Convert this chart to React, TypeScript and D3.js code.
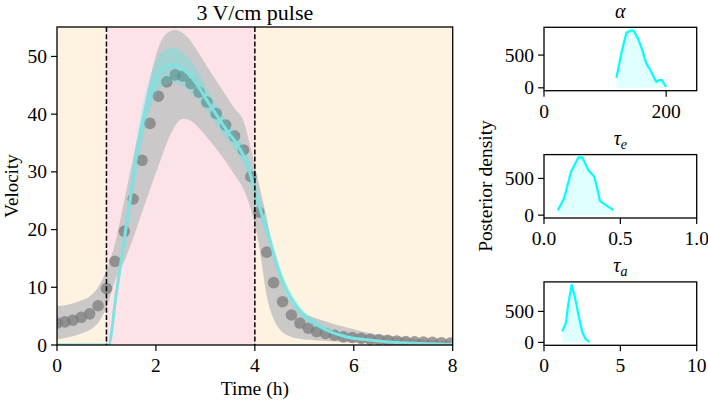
import React from 'react';
import * as d3 from 'd3';

// ---------- data ----------
const pulseStart = 1;
const pulseEnd = 4;

const obsTime = [0.0, 0.16, 0.32, 0.49, 0.66, 0.83, 1.0, 1.17, 1.36, 1.54, 1.72, 1.88, 2.05, 2.22, 2.39, 2.55, 2.71, 2.87, 3.03, 3.22, 3.41, 3.59, 3.77, 3.92, 4.08, 4.24, 4.38, 4.56, 4.74, 4.91, 5.08, 5.25, 5.43, 5.61, 5.79, 5.97, 6.15, 6.33, 6.51, 6.69, 6.87, 7.05, 7.23, 7.41, 7.59, 7.77, 7.95];
const obsVelocity = [3.8, 4.0, 4.3, 4.8, 5.4, 6.8, 9.8, 14.5, 19.7, 25.3, 32.0, 38.4, 43.1, 45.6, 46.8, 46.6, 45.3, 43.8, 42.1, 40.1, 38.1, 36.2, 33.8, 29.2, 23.0, 16.1, 10.8, 7.5, 5.2, 3.8, 2.9, 2.3, 2.0, 1.7, 1.4, 1.3, 1.15, 1.0, 0.9, 0.8, 0.7, 0.6, 0.55, 0.5, 0.45, 0.4, 0.35];
const obsUpper = [6.8, 6.9, 7.2, 7.7, 8.4, 10.0, 13.0, 17.5, 25.0, 32.5, 39.5, 46.0, 51.5, 54.0, 54.6, 54.0, 52.6, 50.5, 48.3, 45.8, 43.3, 41.0, 38.8, 34.0, 28.0, 22.0, 16.0, 10.5, 7.4, 5.9, 5.1, 4.6, 4.1, 3.6, 3.2, 2.8, 2.4, 2.1, 1.8, 1.6, 1.4, 1.2, 1.05, 0.95, 0.85, 0.75, 0.7];
const obsLower = [1.0, 1.2, 1.5, 2.0, 2.6, 3.8, 6.5, 11.0, 14.5, 18.5, 23.0, 27.0, 31.0, 35.0, 38.0, 39.2, 38.8, 37.6, 36.0, 34.0, 31.8, 29.5, 27.0, 23.5, 17.5, 8.5, 4.5, 2.2, 1.4, 1.1, 0.9, 0.8, 0.7, 0.6, 0.5, 0.45, 0.4, 0.35, 0.3, 0.25, 0.2, 0.2, 0.15, 0.15, 0.1, 0.1, 0.1];

const modelTime = [0, 1.0, 1.04, 1.2, 1.36, 1.5, 1.6, 1.71, 1.88, 2.05, 2.2, 2.35, 2.5, 2.65, 2.82, 3.03, 3.23, 3.43, 3.63, 3.84, 4.04, 4.2, 4.31, 4.44, 4.61, 4.85, 5.12, 5.45, 5.86, 6.26, 6.7, 7.2, 7.6, 8];
const modelVelocity = [0, 0, 0, 9, 18.3, 26.5, 32.5, 37.8, 43.5, 47, 48.2, 48.5, 48, 47, 45.3, 42.4, 39.8, 37.2, 34.9, 31.5, 25.5, 21, 18, 14.1, 10.1, 6.6, 4.3, 2.6, 1.4, 0.9, 0.5, 0.3, 0.2, 0.1];
const modelUpper = [0, 0, 0, 10.2, 20.3, 29, 35.3, 40.8, 46.5, 50, 51.2, 51.5, 51, 49.8, 47.8, 44.4, 41.6, 38.8, 36.4, 33, 27, 22.5, 19.4, 15.4, 11.3, 7.5, 5, 3.1, 1.8, 1.2, 0.7, 0.45, 0.3, 0.2];
const modelLower = [0, 0, 0, 7.8, 16.3, 24, 29.7, 34.8, 40.5, 44, 45.2, 45.5, 45, 44.2, 42.8, 40.4, 38, 35.6, 33.4, 30, 24, 19.5, 16.6, 12.8, 8.9, 5.7, 3.6, 2.1, 1.0, 0.6, 0.3, 0.15, 0.1, 0];

const mainXTicks = [0, 2, 4, 6, 8];
const mainYTicks = [0, 10, 20, 30, 40, 50];

const alphaX = [118.5, 126.6, 134.8, 141.3, 146.7, 153.7, 160.9, 167.4, 175.5, 183.7, 189, 192.9, 200];
const alphaDensity = [153, 526, 841, 872, 872, 755, 576, 373, 245, 92, 118, 118, 15];
const alphaXTicks = [0, 200];

const tauEX = [0.09, 0.131, 0.177, 0.225, 0.251, 0.29, 0.33, 0.367, 0.454];
const tauEDensity = [68, 227, 590, 786, 786, 613, 522, 191, 68];
const tauEXTicks = [0, 0.5, 1.0];

const tauAX = [1.2, 1.44, 1.59, 1.81, 2.03, 2.29, 2.51, 2.73, 2.97];
const tauADensity = [177, 323, 619, 930, 726, 403, 161, 55, 10];
const tauAXTicks = [0, 5, 10];

const densityYTicks = [0, 500];

// ---------- layout ----------
const FONT = "'Liberation Serif', 'DejaVu Serif', serif";
const TICK_FS = 19.5;
const TITLE_FS = 22;
const GREEK_FS = 20;

const M = { left: 57, right: 452.7, top: 27, bottom: 345 };
const P = { left: 544, right: 696.7 };
const panelTops = [27.3, 154.6, 281.9];
const PH = 63.4;

function SmallPanel({ top, xDomain, yDomain, xs, ys, xTicks, fmt, title, sub, id }) {
  const x = d3.scaleLinear().domain(xDomain).range([P.left, P.right]);
  const y = d3.scaleLinear().domain(yDomain).range([top + PH, top]);
  const pts = xs.map((v, i) => [v, ys[i]]);
  const line = d3.line().x(d => x(d[0])).y(d => y(d[1]))(pts);
  const area = d3.area().x(d => x(d[0])).y0(y(0)).y1(d => y(d[1]))(pts);
  const cx = (P.left + P.right) / 2;
  return (
    <g>
      <defs>
        <clipPath id={id}><rect x={P.left} y={top} width={P.right - P.left} height={PH} /></clipPath>
      </defs>
      <g clipPath={`url(#${id})`}>
        <path d={area} fill="#00ffff" fillOpacity={0.12} />
        <path d={line} fill="none" stroke="#00ffff" strokeWidth={2.2} strokeLinejoin="round" />
      </g>
      <rect x={P.left} y={top} width={P.right - P.left} height={PH} fill="none" stroke="#000" strokeWidth={1.3} />
      {densityYTicks.map(t => (
        <g key={'y' + t}>
          <line x1={P.left - 6} x2={P.left} y1={y(t)} y2={y(t)} stroke="#000" strokeWidth={1.2} />
          <text x={P.left - 10} y={y(t)} dy="0.34em" textAnchor="end" fontSize={TICK_FS} fontFamily={FONT}>{t}</text>
        </g>
      ))}
      {xTicks.map(t => (
        <g key={'x' + t}>
          <line x1={x(t)} x2={x(t)} y1={top + PH} y2={top + PH + 6} stroke="#000" strokeWidth={1.2} />
          <text x={x(t)} y={top + PH + 27} textAnchor="middle" fontSize={TICK_FS} fontFamily={FONT}>{fmt(t)}</text>
        </g>
      ))}
      <text x={cx} y={top - 9.5} textAnchor="middle" fontSize={GREEK_FS} fontFamily={FONT} fontStyle="italic">
        {title}
        {sub ? <tspan fontSize={GREEK_FS * 0.7} dy={4}>{sub}</tspan> : null}
      </text>
    </g>
  );
}

export default function App() {
  const x = d3.scaleLinear().domain([0, 8]).range([M.left, M.right]);
  const y = d3.scaleLinear().domain([0, 55.1]).range([M.bottom, M.top]);

  const obsIdx = obsTime.map((_, i) => i);
  const obsBand = d3.area().curve(d3.curveMonotoneX)
    .x(i => x(obsTime[i])).y0(i => y(obsLower[i])).y1(i => y(obsUpper[i]))(obsIdx);
  const modIdx = modelTime.map((_, i) => i);
  const modBand = d3.area().curve(d3.curveMonotoneX)
    .x(i => x(modelTime[i])).y0(i => y(modelLower[i])).y1(i => y(modelUpper[i]))(modIdx);
  const modLine = d3.line().curve(d3.curveMonotoneX)
    .x(i => x(modelTime[i])).y(i => y(modelVelocity[i]))(modIdx);

  return (
    <svg width={708} height={400} style={{ position: 'absolute', left: 0, top: 0, background: '#fff' }}>
      <defs>
        <clipPath id="mainclip"><rect x={M.left} y={M.top} width={M.right - M.left} height={M.bottom - M.top} /></clipPath>
      </defs>
      <g clipPath="url(#mainclip)">
        <rect x={x(0)} y={M.top} width={x(pulseStart) - x(0)} height={M.bottom - M.top} fill="#fef2e1" />
        <rect x={x(pulseStart)} y={M.top} width={x(pulseEnd) - x(pulseStart)} height={M.bottom - M.top} fill="#fde3e8" />
        <rect x={x(pulseEnd)} y={M.top} width={x(8) - x(pulseEnd)} height={M.bottom - M.top} fill="#fef2e1" />
        <path d={obsBand} fill="#c6c6c6" fillOpacity={0.92} />
        {obsTime.map((t, i) => (
          <circle key={i} cx={x(t)} cy={y(obsVelocity[i])} r={5.8} fill="#7a7a7a" fillOpacity={0.72} />
        ))}
        <path d={modBand} fill="#00ffff" fillOpacity={0.2} />
        <path d={modLine} fill="none" stroke="#7fe2e0" strokeWidth={3} />
        {[pulseStart, pulseEnd].map(t => (
          <line key={t} x1={x(t)} x2={x(t)} y1={M.top} y2={M.bottom} stroke="#000" strokeWidth={1.5} strokeDasharray="5,2.2" />
        ))}
      </g>
      <rect x={M.left} y={M.top} width={M.right - M.left} height={M.bottom - M.top} fill="none" stroke="#000" strokeWidth={1.3} />
      {mainXTicks.map(t => (
        <g key={'x' + t}>
          <line x1={x(t)} x2={x(t)} y1={M.bottom} y2={M.bottom + 6} stroke="#000" strokeWidth={1.2} />
          <text x={x(t)} y={M.bottom + 27} textAnchor="middle" fontSize={TICK_FS} fontFamily={FONT}>{t}</text>
        </g>
      ))}
      {mainYTicks.map(t => (
        <g key={'y' + t}>
          <line x1={M.left - 6} x2={M.left} y1={y(t)} y2={y(t)} stroke="#000" strokeWidth={1.2} />
          <text x={M.left - 10} y={y(t)} dy="0.34em" textAnchor="end" fontSize={TICK_FS} fontFamily={FONT}>{t}</text>
        </g>
      ))}
      <text x={(M.left + M.right) / 2} y={19.5} textAnchor="middle" fontSize={TITLE_FS} fontFamily={FONT}>3 V/cm pulse</text>
      <text x={(M.left + M.right) / 2} y={395} textAnchor="middle" fontSize={TICK_FS} fontFamily={FONT}>Time (h)</text>
      <text transform={`translate(18,${(M.top + M.bottom) / 2}) rotate(-90)`} textAnchor="middle" fontSize={19} fontFamily={FONT}>Velocity</text>

      <SmallPanel id="p1" top={panelTops[0]} xDomain={[0, 250]} yDomain={[-44, 924]} xs={alphaX} ys={alphaDensity}
        xTicks={alphaXTicks} fmt={d => String(d)} title="α" sub={null} />
      <SmallPanel id="p2" top={panelTops[1]} xDomain={[0, 1]} yDomain={[-39, 825]} xs={tauEX} ys={tauEDensity}
        xTicks={tauEXTicks} fmt={d => d.toFixed(1)} title="τ" sub="e" />
      <SmallPanel id="p3" top={panelTops[2]} xDomain={[0, 10]} yDomain={[-46.5, 976]} xs={tauAX} ys={tauADensity}
        xTicks={tauAXTicks} fmt={d => String(d)} title="τ" sub="a" />
      <text transform={`translate(492,186) rotate(-90)`} textAnchor="middle" fontSize={TICK_FS} fontFamily={FONT}>Posterior density</text>
    </svg>
  );
}
